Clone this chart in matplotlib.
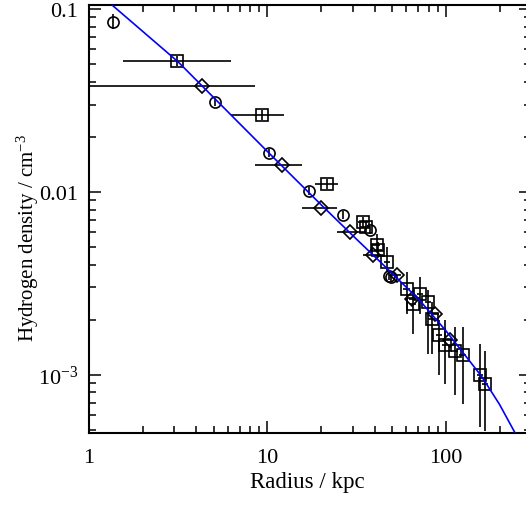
import numpy as np
import matplotlib
matplotlib.use("Agg")
import matplotlib.pyplot as plt
from matplotlib.ticker import FixedLocator, FixedFormatter, LogLocator, NullFormatter

plt.rcParams['font.family'] = ['Liberation Serif', 'DejaVu Serif']
plt.rcParams['mathtext.fontset'] = 'custom'
plt.rcParams['mathtext.rm'] = 'Liberation Serif'
plt.rcParams['mathtext.it'] = 'Liberation Serif:italic'

# ---- data: circles ----
circ_r = [1.36, 5.08, 10.2, 17.1, 26.6, 37.5, 47.8, 49.2]
circ_d = [0.085, 0.0309, 0.0163, 0.0101, 0.0075, 0.0062, 0.00345, 0.0034]
circ_dlo = [0.0778, 0.0293, 0.0155, 0.0096, 0.0071, 0.0059, 0.00328, 0.00323]
circ_dhi = [0.094, 0.0325, 0.0171, 0.0106, 0.0079, 0.0065, 0.00362, 0.00357]

# ---- data: squares with short error bars ----
sqb_r = [3.1, 9.35, 21.5, 34.2, 35.5, 40.9, 41.8]
sqb_d = [0.0518, 0.0264, 0.01106, 0.0068, 0.0064, 0.00513, 0.0048]
sqb_rlo = [1.55, 6.25, 18.5, 32.0, 33.2, 38.8, 39.6]
sqb_rhi = [6.25, 12.4, 25.0, 36.5, 37.8, 43.0, 44.0]
sqb_dlo = [0.0486, 0.0248, 0.0104, 0.0063, 0.0060, 0.0047, 0.0044]
sqb_dhi = [0.0552, 0.0281, 0.0118, 0.0073, 0.0069, 0.0059, 0.0053]

# ---- data: diamonds ----
dia_r = [4.28, 12.0, 19.9, 29.0, 39.2, 52.9, 65.0, 86.8, 105.0]
dia_d = [0.0381, 0.01406, 0.00818, 0.00603, 0.00453, 0.00353, 0.0026, 0.00215, 0.00154]
dia_rlo = [0.5, 8.5, 15.6, 24.4, 34.3, 50.0, 62.0, 83.0, 100.0]
dia_rhi = [8.5, 15.6, 24.4, 35.2, 44.5, 56.0, 68.0, 91.0, 110.0]

# ---- data: squares with long vertical error bars ----
sq_r = [46.8, 60.2, 65.6, 71.5, 79.6, 83.2, 91.7, 98.7, 112.0, 124.0, 155.0, 165.0]
sq_d = [0.00413, 0.00295, 0.00244, 0.00277, 0.00251, 0.00202, 0.00164, 0.00145,
        0.00134, 0.00128, 0.00099, 0.00089]
sq_dlo = [0.00366, 0.00215, 0.00167, 0.00215, 0.0013, 0.0013, 0.00099, 0.00089,
          0.00077, 0.000695, 0.00052, 0.00049]
sq_dhi = [0.00501, 0.00366, 0.00289, 0.00344, 0.0029, 0.00251, 0.00198, 0.00198,
          0.00183, 0.00183, 0.00148, 0.00134]

# ---- model curve ----
model_r = [1.25, 1.346, 3.16, 10.0, 19.95, 31.6, 44.7, 70.8, 100.0, 158.5, 199.5, 251.2]
model_d = [0.112, 0.105, 0.0513, 0.0166, 0.00851, 0.0055, 0.00398, 0.00257, 0.00174,
           0.00098, 0.00069, 0.000457]

xticks = [1, 10, 100]
xticklabels = ['1', '10', '100']
yticks = [1e-3, 1e-2, 1e-1]
yticklabels = [r'$10^{-3}$', '0.01', '0.1']

fig = plt.figure(figsize=(5.26, 5.06), dpi=100)
ax = fig.add_axes([89/526, 72/506, 442/526, 428/506])
ax.set_xscale('log')
ax.set_yscale('log')
ax.set_xlim(1, 300)
ax.set_ylim(4.8e-4, 0.105)

ekw = dict(ecolor='black', elinewidth=1.2, capsize=0, mfc='none', mec='black', mew=1.2,
           linestyle='none', zorder=3)

ax.plot(model_r, model_d, color='#0000ff', lw=1.2, zorder=4)

c_r = np.array(circ_r); c_d = np.array(circ_d)
ax.errorbar(c_r, c_d, yerr=[c_d - np.array(circ_dlo), np.array(circ_dhi) - c_d],
            fmt='o', ms=8, **ekw)

b_r = np.array(sqb_r); b_d = np.array(sqb_d)
ax.errorbar(b_r, b_d, xerr=[b_r - np.array(sqb_rlo), np.array(sqb_rhi) - b_r],
            yerr=[b_d - np.array(sqb_dlo), np.array(sqb_dhi) - b_d],
            fmt='s', ms=8, **ekw)

d_r = np.array(dia_r); d_d = np.array(dia_d)
ax.errorbar(d_r, d_d, xerr=[d_r - np.array(dia_rlo), np.array(dia_rhi) - d_r],
            fmt='D', ms=7.3, **ekw)

s_r = np.array(sq_r); s_d = np.array(sq_d)
ax.errorbar(s_r, s_d, xerr=[s_r * 0.04, s_r * 0.04],
            yerr=[s_d - np.array(sq_dlo), np.array(sq_dhi) - s_d],
            fmt='s', ms=8, **ekw)

ax.xaxis.set_major_locator(FixedLocator(xticks))
ax.xaxis.set_major_formatter(FixedFormatter(xticklabels))
ax.xaxis.set_minor_locator(LogLocator(base=10, subs=np.arange(2, 10)))
ax.xaxis.set_minor_formatter(NullFormatter())
ax.yaxis.set_major_locator(FixedLocator(yticks))
ax.yaxis.set_major_formatter(FixedFormatter(yticklabels))
ax.yaxis.set_minor_locator(LogLocator(base=10, subs=np.arange(2, 10)))
ax.yaxis.set_minor_formatter(NullFormatter())

ax.tick_params(which='both', direction='in', top=True, right=True, labelsize=16, colors='black')
ax.tick_params(axis='x', which='major', pad=11)
ax.tick_params(axis='y', which='major', pad=8)
ax.tick_params(which='major', length=8.5, width=1.1)
ax.tick_params(which='minor', length=5, width=1.1)
for s in ax.spines.values():
    s.set_linewidth(1.5)

ax.set_xlabel('Radius / kpc', fontsize=16.5)
ax.set_ylabel('Hydrogen density / cm$^{-3}$', fontsize=15)
ax.xaxis.set_label_coords((307 - 89) / 442, -(483 - 434) / 428)
ax.yaxis.set_label_coords(-(89 - 28) / 442, (434 - 238) / 428)
ax.xaxis.label.set_verticalalignment('center')
ax.yaxis.label.set_verticalalignment('center')

fig.savefig('out.png', dpi=100)
